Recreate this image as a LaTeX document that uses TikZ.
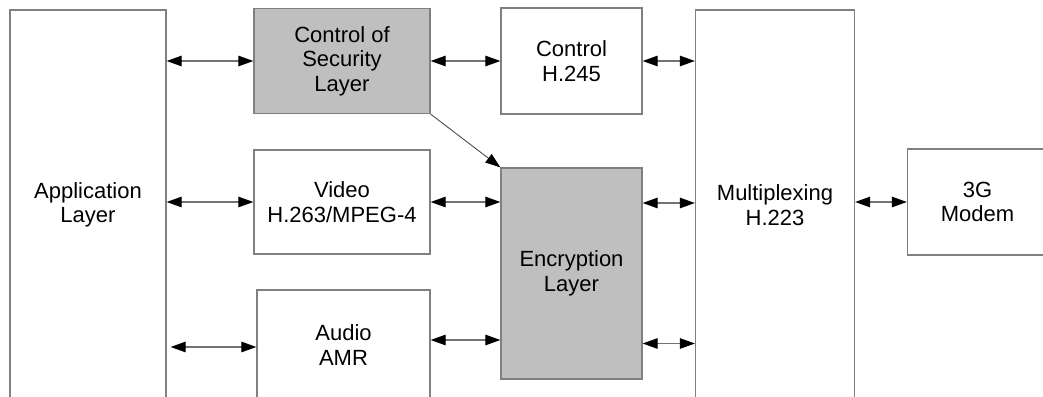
\documentclass[tikz,border=0pt]{standalone}
\usepackage{fontspec}
\setmainfont{Liberation Sans}
\usetikzlibrary{arrows.meta}
\tikzset{
  >={Triangle[length=15pt, width=10.5pt, color=black]},
  blk/.style={draw=gray, line width=1.3pt, fill=white, align=center, inner sep=0pt,
    font=\fontsize{22}{24.5}\selectfont},
  sec/.style={blk, fill=black!25},
  link/.style={<->, draw=black!55, line width=1.1pt},
}

\begin{document}
\begin{tikzpicture}[x=1pt, y=-1pt]
  \useasboundingbox (0,0) rectangle (1043,396);
  \node[blk, minimum width=156pt, minimum height=390pt] (app) at (88,205) {Application\\Layer};
  \node[sec, minimum width=176pt, minimum height=105pt] (csec) at (342,61) {Control of\\Security\\Layer};
  \node[blk, minimum width=176pt, minimum height=104pt] (video) at (342,202) {Video\\H.263/MPEG-4};
  \node[blk, minimum width=173pt, minimum height=110pt] (audio) at (343.5,345) {Audio\\AMR};
  \node[blk, minimum width=141pt, minimum height=106pt] (ctrl) at (571.5,61) {Control\\H.245};
  \node[sec, minimum width=141pt, minimum height=211pt] (enc) at (571.5,273.5) {Encryption\\Layer};
  \node[blk, minimum width=159pt, minimum height=390pt] (mux) at (775,205) {Multiplexing\\H.223};
  \node[blk, minimum width=140pt, minimum height=106pt] (modem) at (977.5,202) {3G\\Modem};

  \draw[link] (csec.west -| app.east) -- (csec.west);
  \draw[link] (video.west -| app.east) -- (video.west);
  \draw[link, shorten <=4pt] (app.east |- 0,347) -- (audio.west |- 0,347);
  \draw[link] (csec.east) -- (ctrl.west);
  \draw[link] (video.east) -- (video.east -| enc.west);
  \draw[link] (audio.east |- 0,340) -- (enc.west |- 0,340);
  \draw[link] (ctrl.east) -- (ctrl.east -| mux.west);
  \draw[link] (enc.east |- 0,203) -- (mux.west |- 0,203);
  \draw[link] (enc.east |- 0,343.5) -- (mux.west |- 0,343.5);
  \draw[link] (mux.east |- modem.west) -- (modem.west);
  \draw[->, draw=black!70, line width=0.9pt] (csec.south east) -- (enc.north west);
\end{tikzpicture}
\end{document}
